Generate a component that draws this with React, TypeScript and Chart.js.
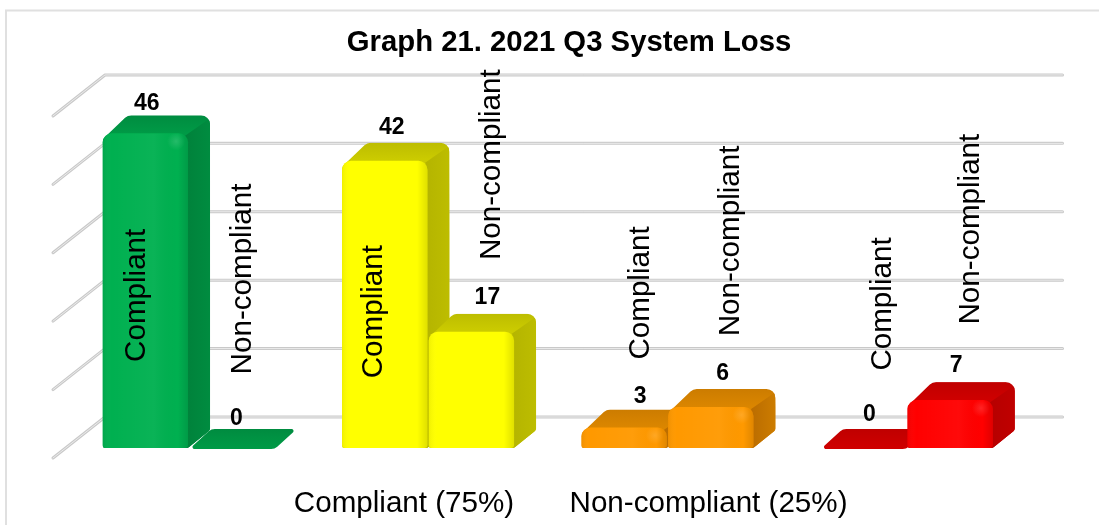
import React, { useEffect, useRef } from "react";
import { Chart, registerables } from "chart.js";

Chart.register(...registerables);

const categories = ["Green", "Yellow", "Orange", "Red"];
const compliantValues = [46, 42, 3, 0];
const nonCompliantValues = [0, 17, 6, 7];
const seriesNames = ["Compliant", "Non-compliant"];
const titleText = "Graph 21. 2021 Q3 System Loss";
const footerLabels = ["Compliant (75%)", "Non-compliant (25%)"];

const frontColors = ["#00B050", "#FFFF00", "#FF9900", "#FF0000"];
const sideColors = ["#00803A", "#B3B300", "#B86A00", "#B50000"];
const topColors = ["#009A46", "#CCCC00", "#DB8600", "#CF0000"];
const topBackColors = ["#008C40", "#BDBD00", "#CC7C00", "#C00000"];

// Label placement, relative to the bar it belongs to: [dataset][category] => [dx, dy]
const nameOffsets = [
  [[-9, 162], [-11, 151], [17, -134.5], [19, -144]],
  [[11, -169], [20, -167], [20, -166], [21, -171]],
];
const valueOffsets = [
  [[1.5, -30], [7, -33], [16, -30.5], [6, -33]],
  [[4.5, -29], [16, -34], [12, -33], [6, -34]],
];

const DEPTH_X = 22;
const DEPTH_Y = 18;
const FONT = "'Liberation Sans', Arial, sans-serif";

function roundedPoly(ctx: any, pts: number[][], radii: number[]) {
  const n = pts.length;
  const mx = (pts[n - 1][0] + pts[0][0]) / 2;
  const my = (pts[n - 1][1] + pts[0][1]) / 2;
  ctx.beginPath();
  ctx.moveTo(mx, my);
  for (let i = 0; i < n; i++) {
    const a = pts[i];
    const b = pts[(i + 1) % n];
    ctx.arcTo(a[0], a[1], b[0], b[1], radii[i]);
  }
  ctx.closePath();
}

function allBars(chart: any) {
  const out: any[] = [];
  chart.data.datasets.forEach((_: any, d: number) => {
    chart.getDatasetMeta(d).data.forEach((el: any, c: number) => out.push({ el, d, c }));
  });
  return out.sort((a, b) => a.el.x - b.el.x);
}

const threeDPlugin = {
  id: "threeD",
  beforeDatasetsDraw(chart: any) {
    const { ctx } = chart;
    const y = chart.scales.y;
    const x = chart.scales.x;
    ctx.save();
    // Frame: only top and left edges fall inside the picture
    ctx.strokeStyle = "#e0e0e0";
    ctx.lineWidth = 2;
    ctx.beginPath();
    ctx.moveTo(6, 525);
    ctx.lineTo(6, 10.5);
    ctx.lineTo(1099, 10.5);
    ctx.stroke();
    // Walls: gridlines from the value scale, pushed back in depth
    const backDx = 36;
    const backDy = -31;
    const frontDx = -16;
    const frontDy = 10;
    y.ticks.forEach((t: any) => {
      const py = y.getPixelForValue(t.value);
      const path = () => {
        ctx.beginPath();
        ctx.moveTo(x.left + frontDx, py + frontDy);
        ctx.lineTo(x.left + backDx, py + backDy);
        ctx.lineTo(x.right + backDx, py + backDy);
        ctx.stroke();
      };
      ctx.lineCap = "round";
      ctx.lineJoin = "round";
      ctx.strokeStyle = "#c9c9c9";
      ctx.lineWidth = 3;
      path();
      ctx.strokeStyle = "#ebebeb";
      ctx.lineWidth = 1;
      path();
    });
    // Depth faces, left to right
    allBars(chart).forEach(({ el, c }) => {
      const half = el.width / 2;
      const l = el.x - half;
      const r = el.x + half;
      const top = el.y;
      const base = el.base;
      const topGrad = ctx.createLinearGradient(0, top - DEPTH_Y, 0, top);
      topGrad.addColorStop(0, topBackColors[c]);
      topGrad.addColorStop(1, topColors[c]);
      if (base - top < 1) {
        ctx.fillStyle = topGrad;
        roundedPoly(
          ctx,
          [[l, base + 1], [l + DEPTH_X, base - DEPTH_Y - 1], [r + DEPTH_X, base - DEPTH_Y - 1], [r, base + 1]],
          [2, 9, 2, 9]
        );
        ctx.fill();
        return;
      }
      ctx.save();
      roundedPoly(
        ctx,
        [
          [l, top + 6],
          [l + DEPTH_X + 3, top - DEPTH_Y],
          [r + DEPTH_X, top - DEPTH_Y],
          [r + DEPTH_X, base - DEPTH_Y],
          [r, base],
          [l, base],
        ],
        [5, 9, 9, 3, 4, 2]
      );
      ctx.clip();
      ctx.fillStyle = topGrad;
      ctx.fillRect(l, top - DEPTH_Y, r - l + DEPTH_X, base - top + DEPTH_Y);
      const sideGrad = ctx.createLinearGradient(r - 6, 0, r + DEPTH_X, 0);
      sideGrad.addColorStop(0, sideColors[c]);
      sideGrad.addColorStop(1, topBackColors[c]);
      ctx.fillStyle = sideGrad;
      ctx.beginPath();
      ctx.moveTo(r - 8, top + 6);
      ctx.lineTo(r + DEPTH_X, top - DEPTH_Y + 3);
      ctx.lineTo(r + DEPTH_X + 2, base);
      ctx.lineTo(r - 8, base);
      ctx.closePath();
      ctx.fill();
      ctx.restore();
    });
    ctx.restore();
  },
  afterDatasetsDraw(chart: any) {
    const { ctx } = chart;
    ctx.save();
    allBars(chart).forEach(({ el, c }) => {
      const half = el.width / 2;
      const l = el.x - half;
      const r = el.x + half;
      const h = el.base - el.y;
      if (h < 1) return;
      ctx.save();
      ctx.beginPath();
      ctx.roundRect(l, el.y, r - l, h, [9, 9, 3, 3]);
      ctx.clip();
      const g = ctx.createLinearGradient(l, 0, r, 0);
      g.addColorStop(0, "rgba(0,0,0,0.06)");
      g.addColorStop(0.1, "rgba(255,255,255,0)");
      g.addColorStop(0.6, c === 1 ? "rgba(255,255,255,0)" : "rgba(255,255,255,0.04)");
      g.addColorStop(0.88, "rgba(0,0,0,0)");
      g.addColorStop(1, "rgba(0,0,0,0.12)");
      ctx.fillStyle = g;
      ctx.fillRect(l, el.y, r - l, h);
      if (c !== 1) {
        const hx = r - 12;
        const hy = el.y + 8;
        const rg = ctx.createRadialGradient(hx, hy, 0, hx, hy, 9);
        rg.addColorStop(0, "rgba(255,255,255,0.14)");
        rg.addColorStop(1, "rgba(255,255,255,0)");
        ctx.fillStyle = rg;
        ctx.fillRect(hx - 9, hy - 9, 18, 18);
      }
      ctx.restore();
    });
    ctx.restore();
  },
  afterDraw(chart: any) {
    const { ctx } = chart;
    ctx.save();
    ctx.fillStyle = "#000";
    ctx.textAlign = "center";
    ctx.textBaseline = "middle";
    allBars(chart).forEach(({ el, d, c }) => {
      const v = chart.data.datasets[d].data[c];
      const [vx, vy] = valueOffsets[d][c];
      ctx.font = `bold 23px ${FONT}`;
      ctx.fillText(String(v), el.x + vx, el.y + vy);
      const [nx, ny] = nameOffsets[d][c];
      ctx.save();
      ctx.translate(el.x + nx, el.y + ny);
      ctx.rotate(-Math.PI / 2);
      ctx.font = `29.6px ${FONT}`;
      ctx.fillText(seriesNames[d], 0, 0);
      ctx.restore();
    });
    ctx.font = `29.6px ${FONT}`;
    const x = chart.scales.x;
    const yb = chart.scales.y.bottom;
    ctx.fillText(footerLabels[0], x.left + 335, yb + 56);
    ctx.fillText(footerLabels[1], x.left + 639.5, yb + 56);
    ctx.restore();
  },
  afterLayout(chart: any) {
    // The title sits centred over the depth-shifted plot, not the canvas
    const t = chart.titleBlock;
    if (t) {
      t.left += 21.3;
      t.right += 21.3;
    }
  },
};

export default function App() {
  const ref = useRef<HTMLCanvasElement | null>(null);
  useEffect(() => {
    document.body.style.margin = "0";
    document.body.style.background = "#fff";
    const chart = new Chart(ref.current as HTMLCanvasElement, {
      type: "bar",
      data: {
        labels: categories,
        datasets: [
          { label: seriesNames[0], data: compliantValues, backgroundColor: frontColors },
          { label: seriesNames[1], data: nonCompliantValues, backgroundColor: frontColors },
        ],
      },
      plugins: [threeDPlugin],
      options: {
        responsive: false,
        animation: false,
        devicePixelRatio: 1,
        layout: { padding: { left: 69, right: 72.5, top: 0, bottom: 77 } },
        datasets: {
          bar: {
            categoryPercentage: 0.724,
            barPercentage: 0.985,
            borderSkipped: false,
            borderWidth: 0,
            borderRadius: { topLeft: 9, topRight: 9, bottomLeft: 3, bottomRight: 3 },
          },
        },
        scales: {
          x: { display: false },
          y: { display: false, min: 0, max: 50, ticks: { stepSize: 10 } },
        },
        plugins: {
          legend: { display: false },
          tooltip: { enabled: false },
          title: {
            display: true,
            text: titleText,
            color: "#000",
            font: { family: FONT, size: 29.3, weight: "bold", lineHeight: 1.2 },
            padding: { top: 25.4, bottom: 45.4 },
          },
        },
      },
    } as any);
    return () => chart.destroy();
  }, []);
  return <canvas ref={ref} width={1099} height={525} style={{ display: "block" }} />;
}
